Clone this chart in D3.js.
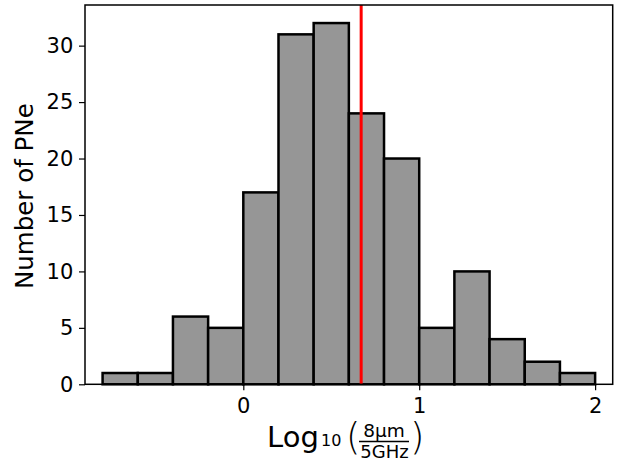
<!DOCTYPE html>
<html>
<head>
<meta charset="utf-8">
<script src="https://cdn.jsdelivr.net/npm/d3@7"></script>
<style>
  html, body { margin: 0; padding: 0; background: #fff; }
  svg { display: block; }
  text { font-family: "DejaVu Sans", sans-serif; fill: #000; }
</style>
</head>
<body>
<div id="chart"></div>
<script>
// Histogram bins: left/right edges of each bin and the count in it
const binEdges = [-0.8, -0.6, -0.4, -0.2, 0.0, 0.2, 0.4, 0.6, 0.8, 1.0, 1.2, 1.4, 1.6, 1.8, 2.0];
const counts   = [1, 1, 6, 5, 17, 31, 32, 24, 20, 5, 10, 4, 2, 1];

// Reference value marked by the vertical red line
const markerValue = 0.67;

// Axis ticks
const xTicks = [0, 1, 2];
const yTicks = [0, 5, 10, 15, 20, 25, 30];

const width = 625, height = 462;
const margin = { left: 85, right: 12.3, top: 5, bottom: 77.7 };

const svg = d3.select("#chart").append("svg")
  .attr("width", width).attr("height", height);

const x = d3.scaleLinear().domain([-0.9, 2.1])
  .range([margin.left, width - margin.right]);
const y = d3.scaleLinear().domain([0, 33.6])
  .range([height - margin.bottom, margin.top]);

// Bars
const bins = counts.map((c, i) => ({ x0: binEdges[i], x1: binEdges[i + 1], count: c }));
svg.append("g").selectAll("rect").data(bins).join("rect")
  .attr("x", d => x(d.x0))
  .attr("y", d => y(d.count))
  .attr("width", d => x(d.x1) - x(d.x0))
  .attr("height", d => y(0) - y(d.count))
  .attr("fill", "#969696")
  .attr("stroke", "#000")
  .attr("stroke-width", 2.5);

// Vertical marker line
svg.append("line")
  .attr("x1", x(markerValue)).attr("x2", x(markerValue))
  .attr("y1", y.range()[1]).attr("y2", y.range()[0])
  .attr("stroke", "#ff0000")
  .attr("stroke-width", 3);

// Axes
const xAxis = svg.append("g")
  .attr("transform", `translate(0,${y(0)})`)
  .call(d3.axisBottom(x).tickValues(xTicks).tickFormat(d3.format("d"))
    .tickSize(6).tickPadding(7.5));
const yAxis = svg.append("g")
  .attr("transform", `translate(${x.range()[0]},0)`)
  .call(d3.axisLeft(y).tickValues(yTicks).tickFormat(d3.format("d"))
    .tickSize(6).tickPadding(5.7));

[xAxis, yAxis].forEach(g => {
  g.select(".domain").remove();
  g.selectAll(".tick line").attr("stroke", "#000").attr("stroke-width", 1.2);
  g.selectAll(".tick text")
    .style("font-family", "'DejaVu Sans', sans-serif")
    .style("font-size", "21px")
    .attr("fill", "#000");
});

// Plot frame
svg.append("rect")
  .attr("x", x.range()[0]).attr("y", y.range()[1])
  .attr("width", x.range()[1] - x.range()[0])
  .attr("height", y.range()[0] - y.range()[1])
  .attr("fill", "none")
  .attr("stroke", "#000")
  .attr("stroke-width", 1.5);

// Y-axis title
svg.append("text")
  .attr("transform", `translate(33,${(y.range()[0] + y.range()[1]) / 2 + 1.5}) rotate(-90)`)
  .attr("text-anchor", "middle")
  .style("font-size", "24.5px")
  .text("Number of PNe");

// X-axis title: Log10 (8µm / 5GHz) with a stacked fraction
const xt = svg.append("g").attr("class", "x-title");
xt.append("text")
  .attr("x", 267).attr("y", 446.5)
  .style("font-size", "29px")
  .text("Log");
xt.append("text")
  .attr("x", 321).attr("y", 445.5)
  .style("font-size", "16px")
  .text("10");
xt.append("text")
  .attr("x", 346).attr("y", 449.5)
  .style("font-size", "37px")
  .style("font-weight", "300")
  .text("(");
xt.append("text")
  .attr("x", 384).attr("y", 436.5)
  .attr("text-anchor", "middle")
  .style("font-size", "18.5px")
  .text("8μm");
xt.append("line")
  .attr("x1", 359).attr("x2", 409)
  .attr("y1", 441.5).attr("y2", 441.5)
  .attr("stroke", "#000").attr("stroke-width", 1.5);
xt.append("text")
  .attr("x", 384.5).attr("y", 458)
  .attr("text-anchor", "middle")
  .style("font-size", "18px")
  .text("5GHz");
xt.append("text")
  .attr("x", 410).attr("y", 449.5)
  .style("font-size", "37px")
  .style("font-weight", "300")
  .text(")");
</script>
</body>
</html>
